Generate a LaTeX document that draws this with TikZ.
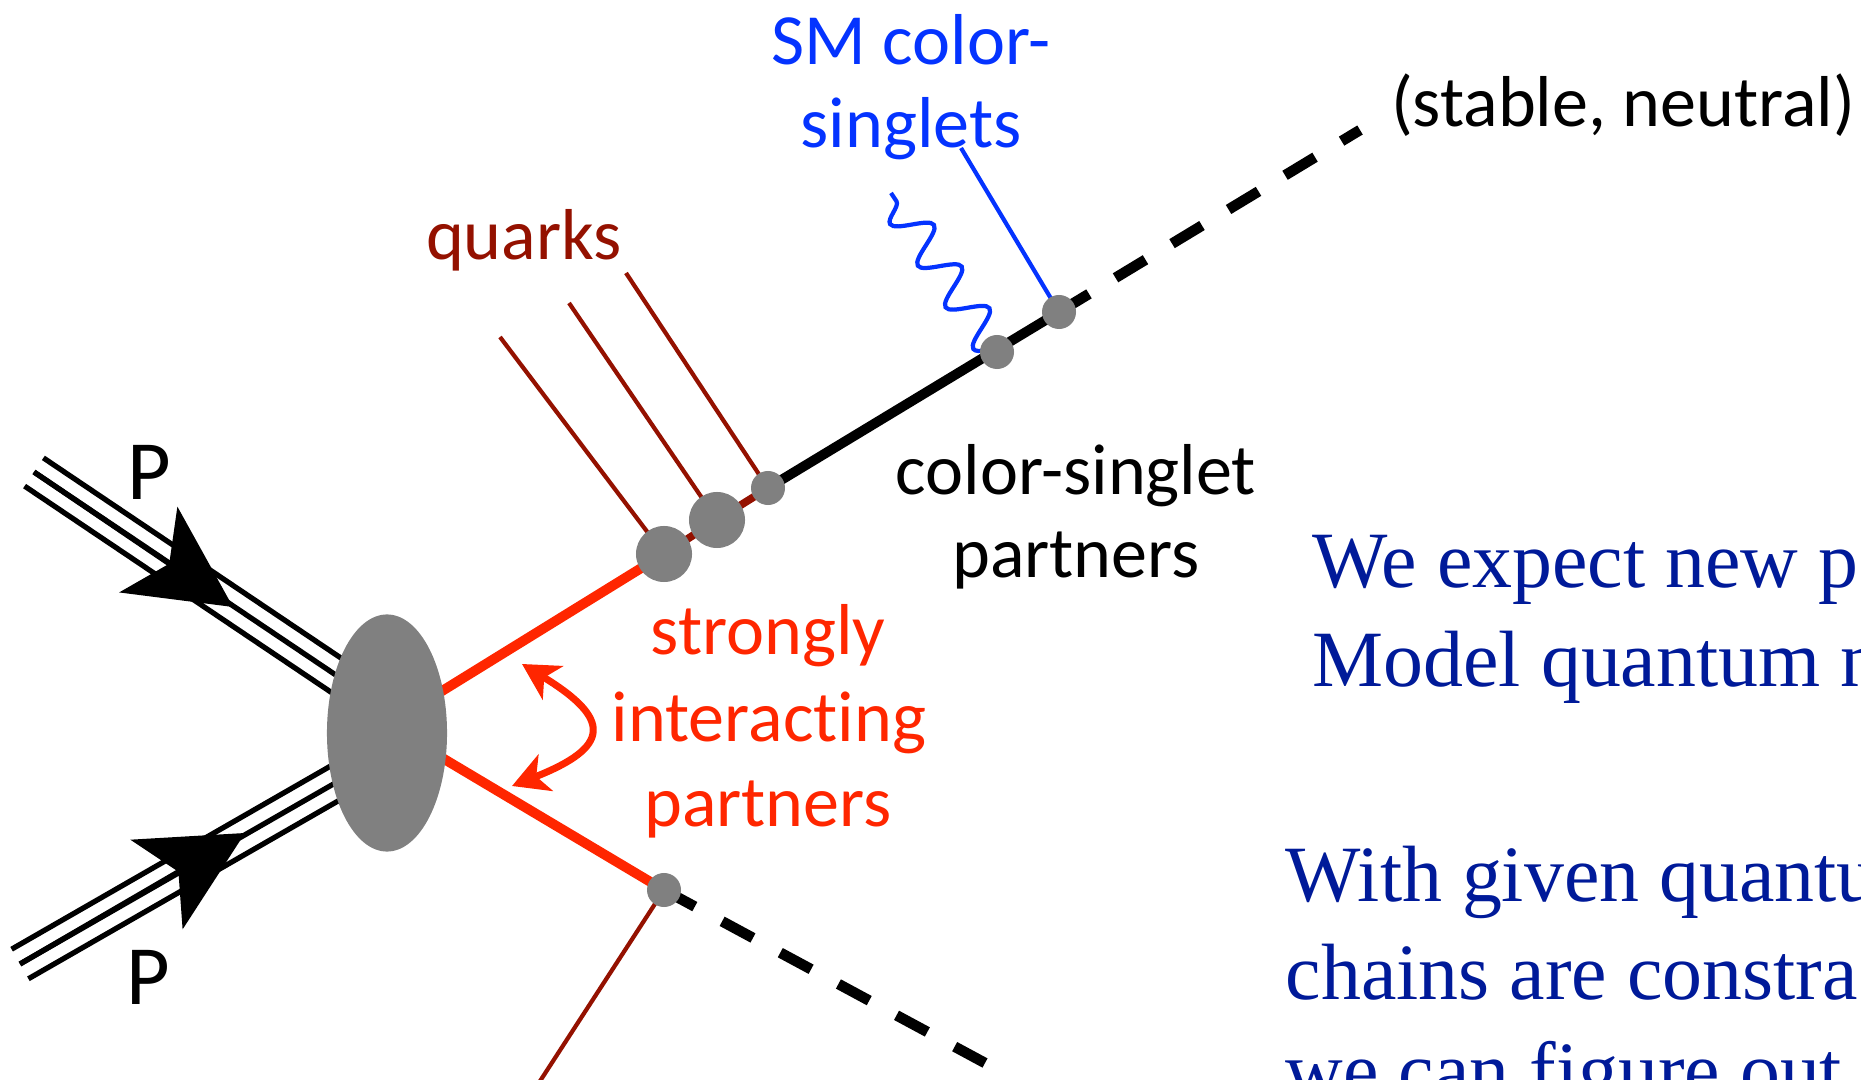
\documentclass[tikz,border=0pt]{standalone}
\usepackage{fontspec}
\setmainfont{Carlito}[Ligatures=NoCommon]
\newfontfamily\slidefont{Liberation Serif}
\usetikzlibrary{arrows.meta,decorations.pathmorphing,shapes.geometric,calc}
\definecolor{hardred}{RGB}{255,38,0}
\definecolor{quarkred}{RGB}{148,17,0}
\definecolor{smblue}{RGB}{4,51,255}
\definecolor{blobgray}{RGB}{128,128,128}
\definecolor{slideblue}{RGB}{0,26,153}
\tikzset{
  lbl/.style={font=\fontsize{20.5}{24}\selectfont, anchor=base, inner sep=0pt},
  slide/.style={font=\slidefont\fontsize{22.7}{27}\selectfont, text=slideblue, anchor=base west, inner sep=0pt},
  dot/.style={circle, fill=blobgray, inner sep=0pt, minimum size=#1},
  beam/.style={line width=1.5pt},
  beamarrow/.style={-{Stealth[length=1.02cm,width=1.03cm,inset=0.25cm]}},
  heavy/.style={line width=2.8pt},
  quarkline/.style={quarkred, line width=1.2pt},
  invisible/.style={line width=3pt, dash pattern=on 0.35cm off 0.31cm}
}
\begin{document}
\begin{tikzpicture}[x=0.01cm,y=-0.01cm]
\useasboundingbox (0,0) rectangle (1861,1080);
\clip (0,0) rectangle (1861,1080);
% vertices
\coordinate (hard) at (387,725);
\coordinate (v1) at (664,554);
\coordinate (v2) at (717,520);
\coordinate (v3) at (768,488);
\coordinate (v4) at (997,352);
\coordinate (v5) at (1059,312);
\coordinate (vl) at (664,890);
% free ends
\coordinate (q1) at (500,337);
\coordinate (q2) at (569,303);
\coordinate (q3) at (626,273);
\coordinate (q4) at (531,1095);
\coordinate (ph) at (891,193);
\coordinate (sm) at (961,148);
\coordinate (inv1) at (1360,130);
\coordinate (inv2) at (985,1063);
% incoming protons
\coordinate (pa_in) at (34,472);
\coordinate (pa_out) at (370,698);
\coordinate (pa_tip) at (233,607);
\coordinate (pb_in) at (20,964);
\coordinate (pb_out) at (370,763);
\coordinate (pb_tip) at (245,833);
\foreach \s in {-1,0,1}
  \draw[beam] ($(pa_in)+(9.4*\s,-14.1*\s)$) -- ($(pa_out)+(9.4*\s,-14.1*\s)$);
\foreach \s in {-1,0,1}
  \draw[beam] ($(pb_in)+(-8.4*\s,-14.8*\s)$) -- ($(pb_out)+(-8.4*\s,-14.8*\s)$);
\draw[beam,beamarrow] (pa_in) -- (pa_tip);
\draw[beam,beamarrow] (pb_in) -- (pb_tip);
% decay chains
\draw[heavy,hardred] (hard) -- (v1);
\draw[heavy,hardred] (hard) -- (vl);
\draw[quarkred,line width=2.2pt] (v1) -- (v2) -- (v3);
\draw[heavy] (v3) -- (v5);
\draw[invisible] (v5) -- (inv1);
\draw[invisible] (vl) -- (inv2);
\draw[quarkline] (v1) -- (q1);
\draw[quarkline] (v2) -- (q2);
\draw[quarkline] (v3) -- (q3);
\draw[quarkline] (vl) -- (q4);
\draw[smblue,line width=1.2pt,decorate,decoration={snake,amplitude=0.18cm,segment length=0.5cm}] (v4) -- (ph);
\draw[smblue,line width=1.2pt] (v5) -- (sm);
\node[dot=0.56cm] (d1) at (v1) {};
\node[dot=0.56cm] (d2) at (v2) {};
\node[dot=0.34cm] (d3) at (v3) {};
\node[dot=0.34cm] (d4) at (v4) {};
\node[dot=0.34cm] (d5) at (v5) {};
\node[dot=0.34cm] (dl) at (vl) {};
\node[ellipse,fill=blobgray,inner sep=0pt,minimum width=1.2cm,minimum height=2.37cm] (blob) at (387,733) {};
% swap arrow
\coordinate (sw1) at (522,664);
\coordinate (sw2) at (512,786);
\draw[hardred,line width=2pt,{Stealth[length=0.36cm,width=0.39cm,inset=0.1cm]}-{Stealth[length=0.36cm,width=0.39cm,inset=0.1cm]}]
  (sw1) .. controls (612,719) and (611,747) .. (sw2);
% labels
\node[lbl,font=\fontsize{24}{28}\selectfont] (pa) at (149,500) {P};
\node[lbl,font=\fontsize{24}{28}\selectfont] (pb) at (148,1004) {P};
\node[lbl,text=quarkred] (quarks) at (524,260) {quarks};
\node[lbl,text=smblue] (sm1) at (911,65) {SM color-};
\node[lbl,text=smblue] (sm2) at (911,148) {singlets};
\node[lbl] (stable) at (1623,127) {(stable, neutral)};
\node[lbl] (cs1) at (1076,495) {color-singlet};
\node[lbl] (cs2) at (1076,578) {partners};
\node[lbl,text=hardred] (si1) at (768,655) {strongly};
\node[lbl,text=hardred] (si2) at (769,742) {interacting};
\node[lbl,text=hardred] (si3) at (768,827) {partners};
\node[slide] (t1) at (1312,588) {We expect new p};
\node[slide] (t2) at (1312,687) {Model quantum n};
\node[slide] (t3) at (1285,901) {With given quantu};
\node[slide] (t4) at (1285,999) {chains are constra};
\node[slide] (t5) at (1285,1097) {we can figure out};
\end{tikzpicture}
\end{document}
